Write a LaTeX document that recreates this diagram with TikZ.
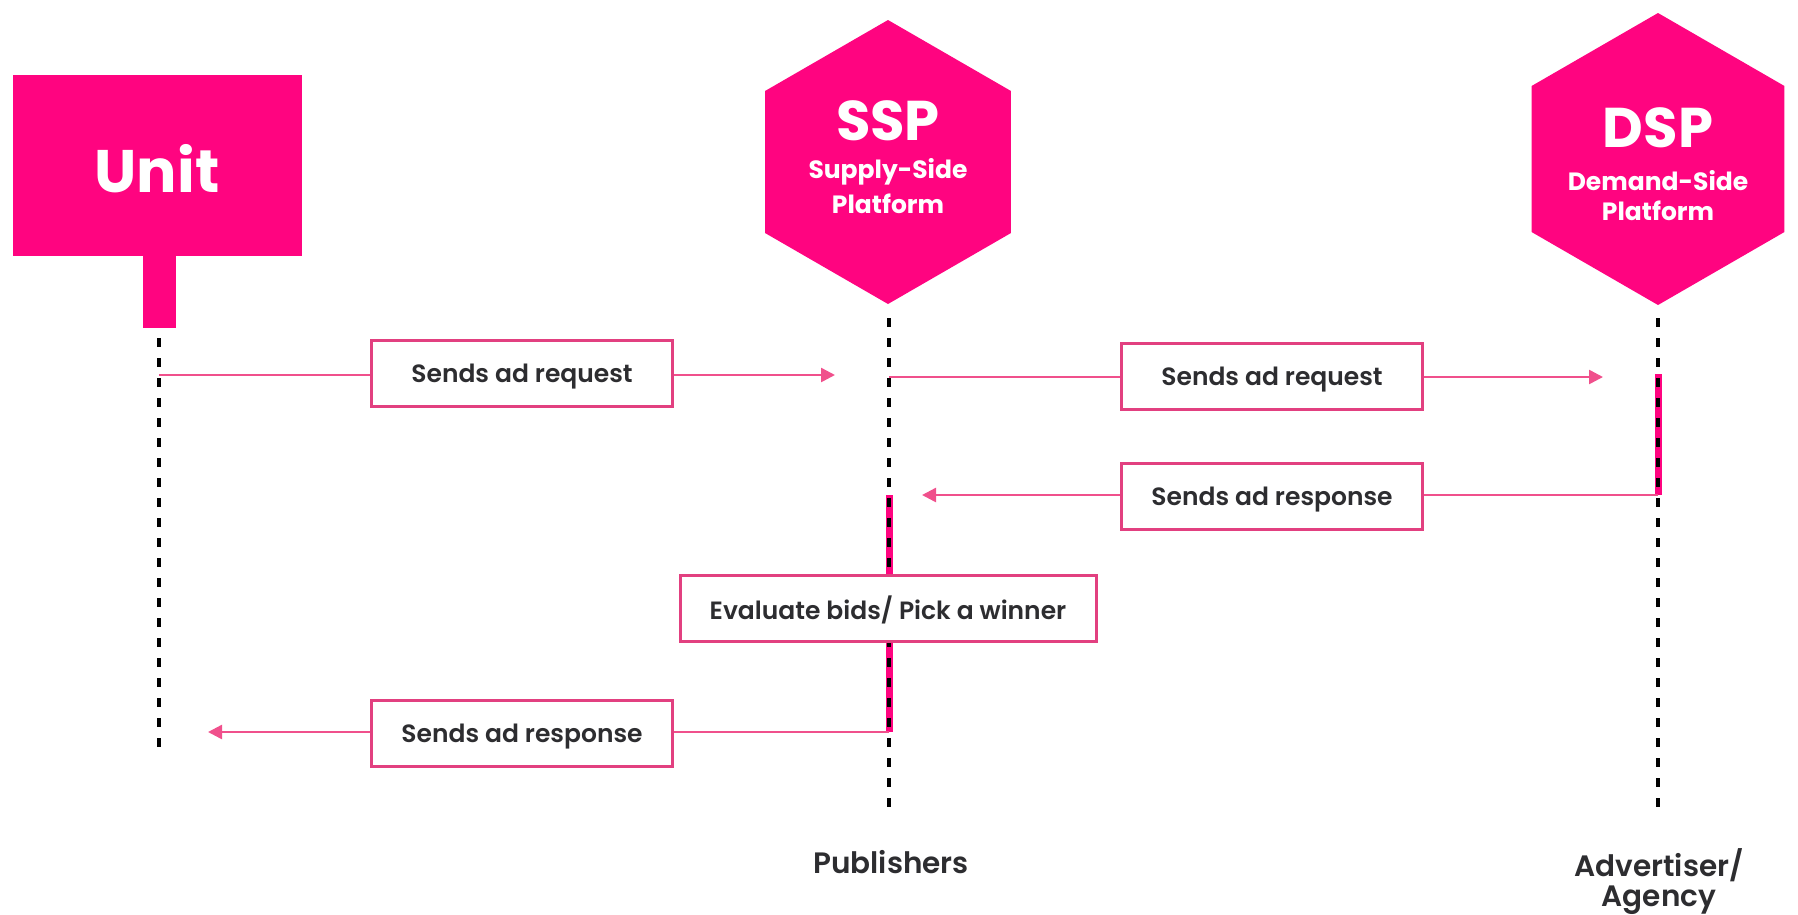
\documentclass[tikz,border=0pt]{standalone}
\usepackage{fontspec}
\setmainfont{Poppins}
\newfontfamily\popsb{Poppins SemiBold}
\usetikzlibrary{arrows.meta,shapes.geometric}
\definecolor{hexpink}{RGB}{255,4,128}
\definecolor{linepink}{RGB}{240,80,140}
\definecolor{boxpink}{RGB}{226,64,128}
\definecolor{txtgray}{RGB}{45,45,48}
\begin{document}
\begin{tikzpicture}[x=1pt,y=-1pt,
  lifeline/.style={line width=4.5pt, black, dash pattern=on 9pt off 11pt},
  actbar/.style={line width=7pt, hexpink},
  msg/.style={line width=2.5pt, linepink, -{Triangle[length=14pt,width=14pt]}},
  msgbox/.style={draw=boxpink, line width=3pt, fill=white, text=txtgray, minimum width=301pt, minimum height=66pt, inner sep=0pt, text depth=0pt, font=\popsb\fontsize{25}{29}\selectfont},
  hex/.style={regular polygon, regular polygon sides=6, shape border rotate=30, fill=hexpink, inner sep=0pt},
  hextitle/.style={text=white, inner sep=0pt, font=\bfseries\fontsize{56}{60}\selectfont},
  hexsub/.style={text=white, inner sep=0pt, font=\bfseries\fontsize{25}{29}\selectfont},
  actor/.style={text=txtgray, inner sep=0pt, font=\popsb\fontsize{29.5}{33}\selectfont}
]
\useasboundingbox (0,0) rectangle (1798,914);

% Unit actor
\node[fill=hexpink, minimum width=289pt, minimum height=181pt, inner sep=0pt] (unit) at (157.5,165.5) {};
\node[fill=hexpink, minimum width=33pt, minimum height=73pt, inner sep=0pt] (stem) at (159.5,291) {};
\node[hextitle, font=\bfseries\fontsize{60}{64}\selectfont, anchor=base] (unitlabel) at (157,192) {Unit};

% SSP and DSP hexagons
\node[hex, minimum size=284pt] (ssp) at (888,162) {};
\node[hextitle, anchor=base] (ssptitle) at (888,140) {SSP};
\node[hexsub, anchor=base] (ssps1) at (888,178) {Supply-Side};
\node[hexsub, anchor=base] (ssps2) at (888,213) {Platform};

\node[hex, minimum size=292pt] (dsp) at (1658,159) {};
\node[hextitle, anchor=base] (dsptitle) at (1658,147) {DSP};
\node[hexsub, anchor=base] (dsps1) at (1658,190) {Demand-Side};
\node[hexsub, anchor=base] (dsps2) at (1658,220) {Platform};

% lifeline coordinates
\coordinate (unitTop) at (159,338);
\coordinate (unitBot) at (159,752);
\coordinate (sspTop) at (889,318);
\coordinate (sspBot) at (889,810);
\coordinate (dspTop) at (1658,318);
\coordinate (dspBot) at (1658,810);

\coordinate (unitA) at (159,375);
\coordinate (sspA) at (889,377);
\coordinate (dspA) at (1658,374);
\coordinate (dspB) at (1658,495);
\coordinate (sspB) at (889,495);
\coordinate (sspC) at (889,732);

\coordinate (tip1) at (835,375);
\coordinate (tip2) at (1603,377);
\coordinate (tip3) at (922,495);
\coordinate (tip4) at (208,732);

% activation bars
\draw[actbar] (dspA) -- (dspB);
\draw[actbar] (sspB) -- (sspC);

% lifelines
\draw[lifeline] (unitTop) -- (unitBot);
\draw[lifeline] (sspTop) -- (sspBot);
\draw[lifeline] (dspTop) -- (dspBot);

% messages
\draw[msg] (unitA) -- (tip1);
\draw[msg] (sspA) -- (tip2);
\draw[msg] (dspB) -- (tip3);
\draw[msg] (sspC) -- (tip4);

% message boxes
\node[msgbox] (b1) at (522,373.5) {Sends ad request};
\node[msgbox] (b2) at (1272,376) {Sends ad request};
\node[msgbox] (b3) at (1272,496) {Sends ad response};
\node[msgbox, minimum width=416pt] (b4) at (888,608) {Evaluate bids/ Pick a winner};
\node[msgbox] (b5) at (522,733) {Sends ad response};

% actor labels
\node[actor, anchor=base] (pub) at (891,873) {Publishers};
\node[actor, anchor=base] (adv1) at (1659,876) {Advertiser/};
\node[actor, anchor=base] (adv2) at (1659,906) {Agency};
\end{tikzpicture}
\end{document}
